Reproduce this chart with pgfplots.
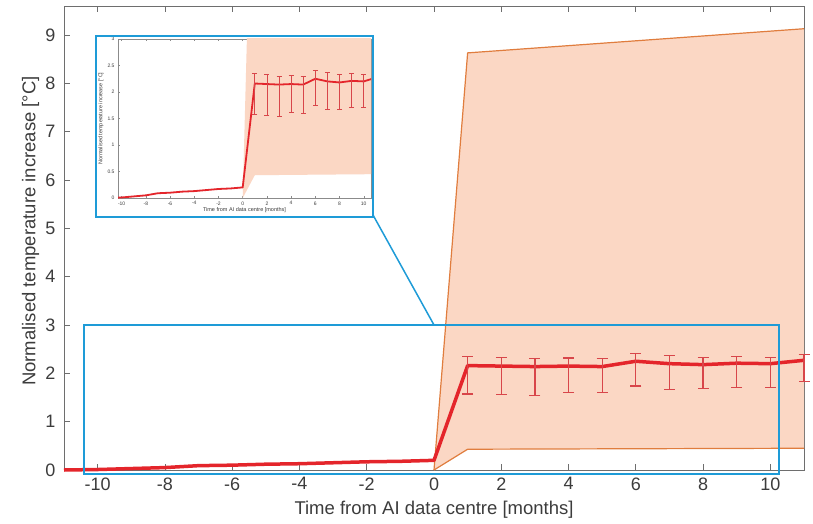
\documentclass[border=0pt]{standalone}
\usepackage{fontspec}
\setmainfont{Liberation Sans}
\usepackage{pgfplots}
\usepackage{pgfplotstable}
\pgfplotsset{compat=1.18}
\definecolor{redline}{HTML}{E4252B}
\definecolor{errred}{HTML}{D8464A}
\definecolor{peach}{HTML}{FBD7C4}
\definecolor{orangeline}{HTML}{E07D3E}
\definecolor{zoomblue}{HTML}{1E9BD7}
\definecolor{axgray}{HTML}{6E6E6E}
\definecolor{txtgray}{HTML}{3C3C3C}

\pgfplotstableread{
x y
-11 0
-10 0.01
-9 0.03
-8 0.05
-7 0.09
-6 0.10
-5 0.12
-4 0.13
-3 0.15
-2 0.17
-1 0.18
0 0.20
1 2.16
2 2.15
3 2.14
4 2.15
5 2.14
6 2.25
7 2.20
8 2.18
9 2.21
10 2.20
11 2.27
}\meandata

\pgfplotstableread{
x y ep em
1 2.16 0.19 0.59
2 2.15 0.18 0.59
3 2.14 0.16 0.60
4 2.15 0.17 0.54
5 2.14 0.16 0.54
6 2.25 0.16 0.51
7 2.20 0.17 0.53
8 2.18 0.15 0.50
9 2.21 0.14 0.50
10 2.20 0.13 0.49
11 2.27 0.12 0.44
}\errdata

\pgfplotstableread{
x y
0 0
1 8.63
11 9.13
}\upperdata

\pgfplotstableread{
x y
0 0
1 0.43
11 0.45
}\lowerdata

\begin{document}
\begin{tikzpicture}
\path[use as bounding box] (0,0) rectangle (813pt,523pt);
\begin{axis}[
  at={(64pt,53pt)}, anchor=south west, scale only axis,
  width=740pt, height=464pt,
  xmin=-11, xmax=11, ymin=0, ymax=9.6,
  xtick={-10,-8,...,10}, ytick={0,1,...,9},
  tick align=inside, major tick length=6pt,
  axis line style={axgray, line width=0.8pt},
  tick style={axgray, line width=0.8pt},
  ticklabel style={font=\fontsize{18}{20}\selectfont, text=txtgray},
  yticklabel style={xshift=-5pt},
  xticklabel style={yshift=-4pt},
  label style={font=\fontsize{18.5}{21}\selectfont, text=txtgray},
  /pgf/number format/assume math mode=true,
  xlabel={Time from AI data centre [months]},
  ylabel={Normalised temperature increase [°C]},
  xlabel style={at={(axis description cs:0.5,-0.086)}, anchor=center},
  ylabel style={at={(axis description cs:-0.045,0.515)}, anchor=center},
  clip=false,
]
\addplot[fill=peach, draw=none] coordinates {(0,0) (1,8.63) (11,9.13) (11,0.45) (1,0.43) (0,0)} -- cycle;
\addplot[orangeline, line width=1.2pt] table[x=x,y=y] {\upperdata};
\addplot[orangeline, line width=1.2pt] table[x=x,y=y] {\lowerdata};
\addplot[redline, line width=3.5pt, line join=round] table[x=x,y=y] {\meandata};
\addplot[draw=none, mark=none,
  error bars/.cd, y dir=both, y explicit,
  error bar style={draw=errred, line width=1.3pt},
  error mark options={draw=errred, rotate=90, line width=1.3pt, mark size=5.5pt}]
  table[x=x, y=y, y error plus=ep, y error minus=em] {\errdata};
\draw[zoomblue, line width=2pt] (axis cs:-10.4,-0.08) rectangle (axis cs:10.26,3);
\coordinate (ztop) at (axis cs:0,3);
\end{axis}
\draw[zoomblue, line width=1.5pt] (373pt,308pt) -- (ztop);
\fill[white] (96pt,306pt) rectangle (373pt,487pt);
\begin{axis}[
  at={(118pt,325pt)}, anchor=south west, scale only axis,
  width=253pt, height=159pt,
  xmin=-10.3, xmax=10.6, ymin=0, ymax=3,
  xtick={-10,-8,-6,-4,-2,0,2,4,6,8,10}, ytick={0,0.5,1,1.5,2,2.5,3},
  tick align=inside, major tick length=2pt,
  axis line style={axgray!80, line width=0.4pt},
  tick style={axgray!80, line width=0.4pt},
  ticklabel style={font=\fontsize{5}{6}\selectfont, text=txtgray},
  label style={font=\fontsize{5.5}{6.5}\selectfont, text=txtgray},
  /pgf/number format/assume math mode=true,
  xlabel={Time from AI data centre [months]},
  ylabel={Normalised temperature increase [°C]},
  xlabel style={at={(axis description cs:0.5,-0.075)}, anchor=center},
  ylabel style={at={(axis description cs:-0.067,0.5)}, anchor=center},
  clip=true,
]
\addplot[fill=peach, draw=none] coordinates {(0,0) (1,8.63) (11,9.13) (11,0.45) (1,0.43) (0,0)} -- cycle;
\addplot[redline, line width=1.8pt, line join=round] table[x=x,y=y] {\meandata};
\addplot[draw=none, mark=none,
  error bars/.cd, y dir=both, y explicit,
  error bar style={draw=errred, line width=0.6pt},
  error mark options={draw=errred, rotate=90, line width=0.6pt, mark size=2.5pt}]
  table[x=x, y=y, y error plus=ep, y error minus=em] {\errdata};
\end{axis}
\draw[zoomblue, line width=2pt] (96pt,306pt) rectangle (373pt,487pt);
\end{tikzpicture}
\end{document}
